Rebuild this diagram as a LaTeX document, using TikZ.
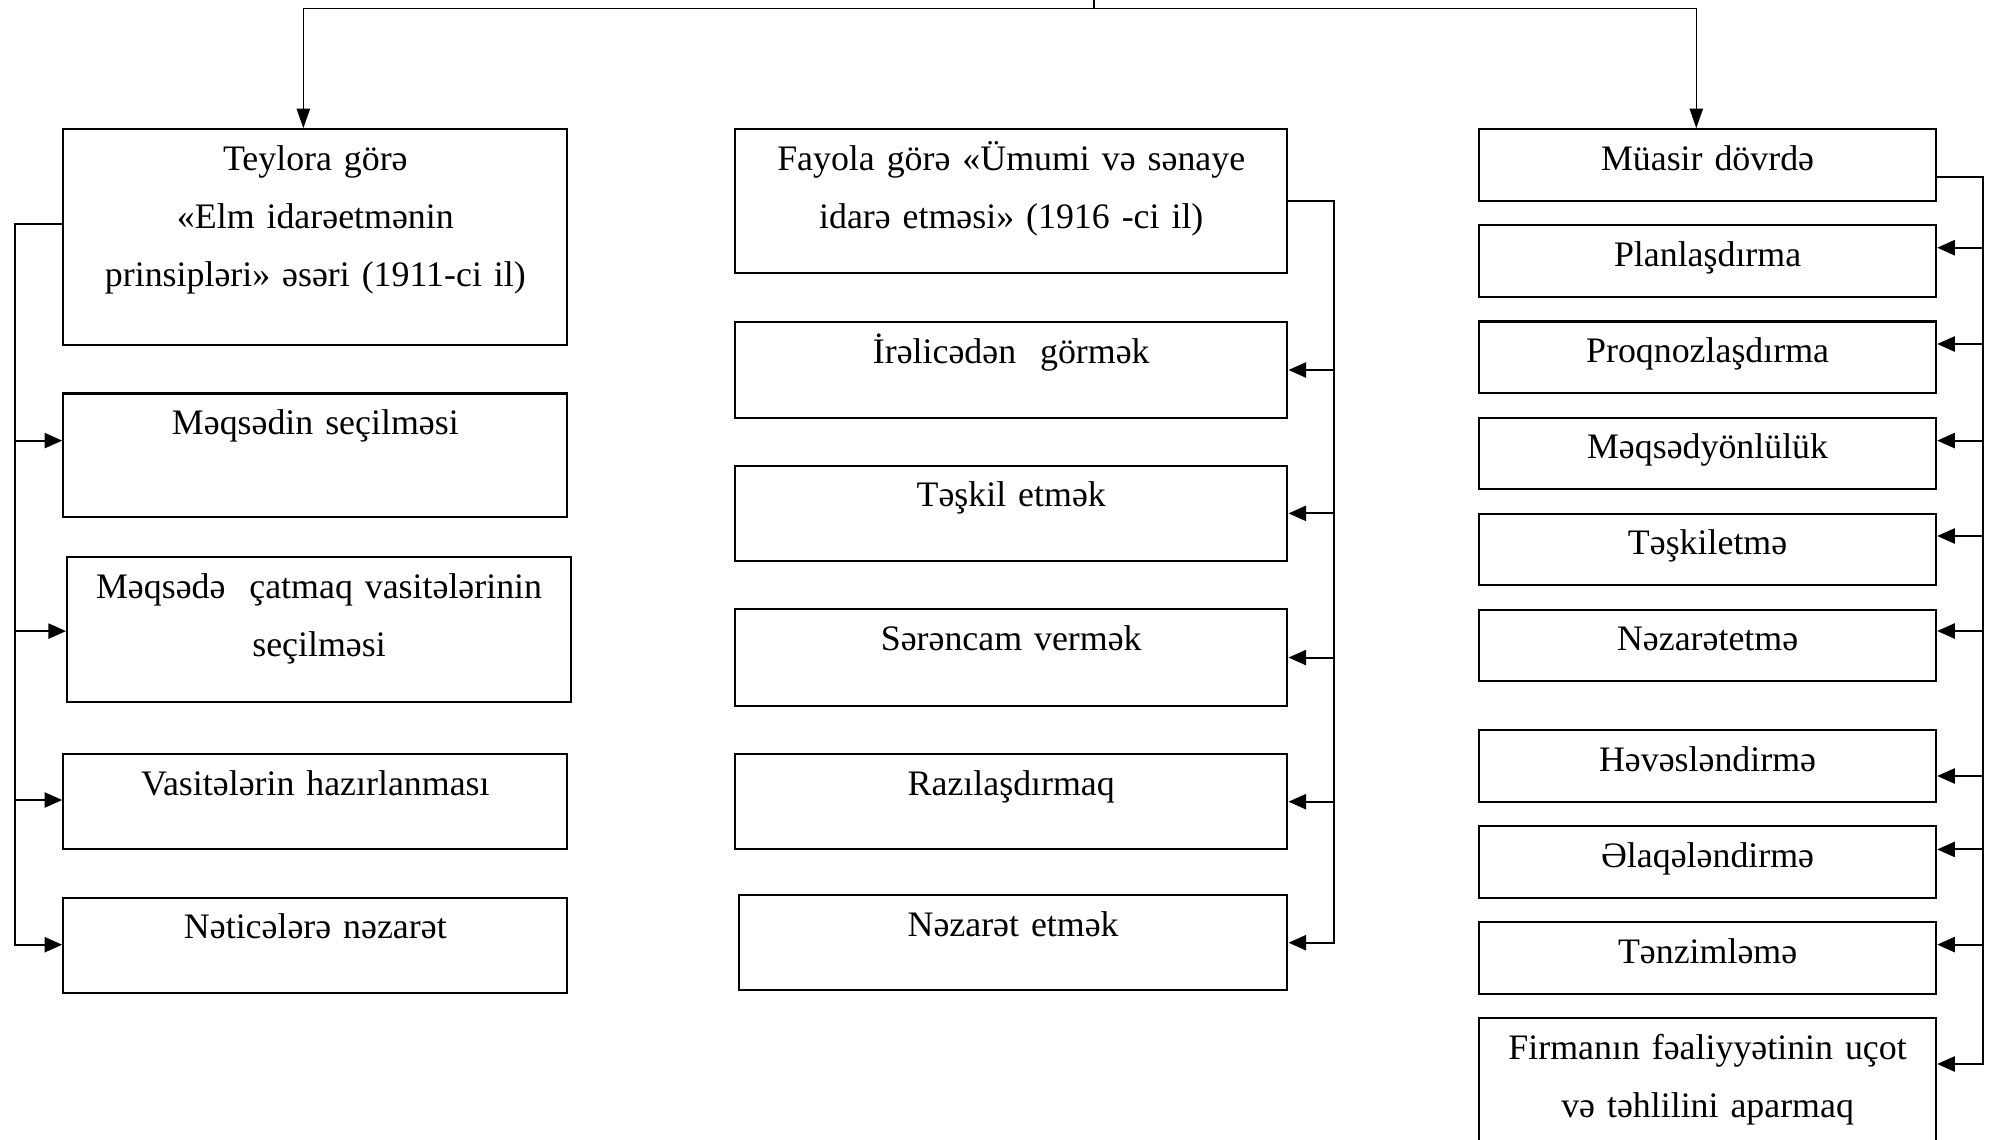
\documentclass[tikz,border=0pt]{standalone}
\usepackage{fontspec}
\setmainfont{Liberation Serif}
\usetikzlibrary{arrows.meta}

\tikzset{
  box/.style={draw, line width=0.62pt, inner sep=0pt, anchor=north west},
  txt/.style={anchor=base, yshift=-0.42cm, text width=5.4cm, align=center,
    font=\fontsize{10.2}{16.6}\selectfont},
  conn/.style={line width=0.55pt},
  arr/.style={conn, -{Triangle[length=5pt,width=4.3pt]}},
  down/.style={line width=0.45pt, -{Triangle[length=5.6pt,width=3.8pt]}}
}

\begin{document}
\begin{tikzpicture}
\useasboundingbox (0,0) rectangle (19.91,-11.40);
\clip (0,0) rectangle (19.91,-11.40);

% Teylor column
\node[box, minimum width=5.041cm, minimum height=2.159cm,
  label={[txt]north:Teylora görə\\«Elm idarəetmənin\\prinsipləri» əsəri (1911-ci il)}] (t1) at (0.622,-1.282) {};
\node[box, minimum width=5.041cm, minimum height=1.231cm,
  label={[txt]north:Məqsədin seçilməsi}] (t2) at (0.622,-3.924) {};
\node[box, minimum width=5.040cm, minimum height=1.447cm,
  label={[txt]north:Məqsədə~ çatmaq vasitələrinin\\seçilməsi}] (t3) at (0.660,-5.562) {};
\node[box, minimum width=5.041cm, minimum height=0.952cm,
  label={[txt]north:Vasitələrin hazırlanması}] (t4) at (0.622,-7.530) {};
\node[box, minimum width=5.041cm, minimum height=0.952cm,
  label={[txt]north:Nəticələrə nəzarət}] (t5) at (0.622,-8.965) {};

% Fayol column
\node[box, minimum width=5.523cm, minimum height=1.435cm,
  label={[txt]north:Fayola görə «Ümumi və sənaye\\idarə etməsi» (1916 -ci il)}] (m1) at (7.340,-1.282) {};
\node[box, minimum width=5.523cm, minimum height=0.952cm,
  label={[txt]north:İrəlicədən~ görmək}] (m2) at (7.340,-3.213) {};
\node[box, minimum width=5.523cm, minimum height=0.952cm,
  label={[txt]north:Təşkil etmək}] (m3) at (7.340,-4.647) {};
\node[box, minimum width=5.523cm, minimum height=0.965cm,
  label={[txt]north:Sərəncam vermək}] (m4) at (7.340,-6.082) {};
\node[box, minimum width=5.523cm, minimum height=0.952cm,
  label={[txt]north:Razılaşdırmaq}] (m5) at (7.340,-7.530) {};
\node[box, minimum width=5.485cm, minimum height=0.952cm,
  label={[txt]north:Nəzarət etmək}] (m6) at (7.378,-8.940) {};

% modern column
\foreach \n/\y/\t in {r1/1.282/Müasir dövrdə, r2/2.243/Planlaşdırma,
    r3/3.204/Proqnozlaşdırma, r4/4.165/Məqsədyönlülük, r5/5.126/Təşkiletmə,
    r6/6.087/Nəzarətetmə, r7/7.290/Həvəsləndirmə, r8/8.251/Əlaqələndirmə,
    r9/9.212/Tənzimləmə}
  \node[box, minimum width=4.57cm, minimum height=0.715cm,
    label={[txt]north:\t}] (\n) at (14.78,-\y) {};
\node[box, minimum width=4.57cm, minimum height=1.7cm,
  label={[txt]north:Firmanın fəaliyyətinin uçot\\və təhlilini aparmaq}] (r10) at (14.78,-10.173) {};

% top
\coordinate (root) at (10.94,0);
\coordinate (hb) at (10.94,-0.083);
\draw[line width=0.45pt] (root) -- (hb);
\draw[down] (hb) -| ([xshift=-0.12cm]t1.north);
\draw[down] (hb) -| ([xshift=-0.113cm]r1.north);

% left bus
\coordinate (lbus) at (0.146,-2.24);
\coordinate (lb5) at (0.146,-9.447);
\draw[arr] (lbus -| t1.west) -- (lbus) -- (lb5) -- (lb5 -| t5.west);
\foreach \n/\y in {t2/4.406, t3/6.311, t4/8.0} {
  \coordinate (lb-\n) at (0.146,-\y);
  \draw[arr] (lb-\n) -- (lb-\n -| \n.west);
}

% middle bus
\coordinate (mbus) at (13.34,0);
\draw[arr] (m1.east) -- (mbus |- m1.east) -- (mbus |- m6.east) -- (m6.east);
\foreach \n in {m2,m3,m4,m5}
  \draw[arr] (mbus |- \n.east) -- (\n.east);

% right bus
\coordinate (rbus) at (19.83,-1.767);
\coordinate (rb10) at (19.83,-10.64);
\draw[arr] (rbus -| r1.east) -- (rbus) -- (rb10) -- (rb10 -| r10.east);
\foreach \n/\y in {r2/2.477, r3/3.440, r4/4.406, r5/5.360, r6/6.310,
    r7/7.760, r8/8.494, r9/9.446} {
  \coordinate (rb-\n) at (19.83,-\y);
  \draw[arr] (rb-\n) -- (rb-\n -| \n.east);
}
\end{tikzpicture}
\end{document}
